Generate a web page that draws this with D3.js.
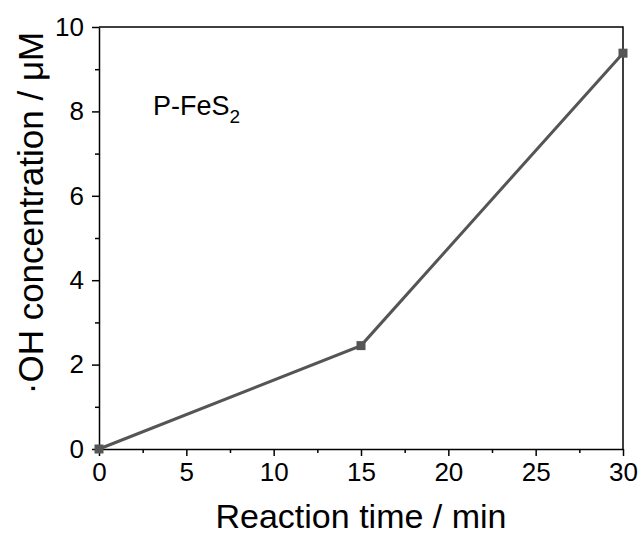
<!DOCTYPE html>
<html>
<head>
<meta charset="utf-8">
<script src="https://cdn.jsdelivr.net/npm/d3@7"></script>
<style>
  body { margin: 0; background: #fff; }
  svg text { font-family: "Liberation Sans", Arial, sans-serif; fill: #000; }
</style>
</head>
<body>
<div id="chart"></div>
<script>
// reaction time (min) vs .OH concentration (uM)
var times = [0, 15, 30];
var conc = [0, 2.45, 9.38];
var xTicks = [0, 5, 10, 15, 20, 25, 30];
var yTicks = [0, 2, 4, 6, 8, 10];

var width = 638, height = 537;
var margin = {top: 27, right: 15, bottom: 88, left: 99};
var w = width - margin.left - margin.right;
var h = height - margin.top - margin.bottom;

var svg = d3.select('#chart').append('svg')
    .attr('width', width)
    .attr('height', height);

var g = svg.append('g')
    .attr('transform', 'translate(' + margin.left + ',' + margin.top + ')');

var x = d3.scaleLinear().domain([0, 30]).range([0, w]);
var y = d3.scaleLinear().domain([0, 10]).range([h, 0]);

// minor ticks
g.append('g')
    .attr('transform', 'translate(0,' + h + ')')
    .call(d3.axisBottom(x).tickValues(d3.range(2.5, 30, 5)).tickSize(4).tickFormat(''))
    .call(function (a) { a.select('.domain').remove(); });
g.append('g')
    .call(d3.axisLeft(y).tickValues(d3.range(1, 10, 2)).tickSize(4).tickFormat(''))
    .call(function (a) { a.select('.domain').remove(); });

// major axes
var xAxis = g.append('g')
    .attr('transform', 'translate(0,' + h + ')')
    .call(d3.axisBottom(x).tickValues(xTicks).tickSize(7).tickPadding(7).tickSizeOuter(0));
var yAxis = g.append('g')
    .call(d3.axisLeft(y).tickValues(yTicks).tickSize(7).tickPadding(8).tickSizeOuter(0));

[xAxis, yAxis].forEach(function (a) {
    a.selectAll('text').style('font-size', '26px');
});
g.selectAll('.tick line, .domain').attr('stroke', '#000').attr('stroke-width', 1.5);

// top + right frame
g.append('path')
    .attr('d', 'M0,0H' + w + 'V' + h)
    .attr('fill', 'none')
    .attr('stroke', '#000')
    .attr('stroke-width', 1.5);

var pts = times.map(function (t, i) { return [t, conc[i]]; });

g.append('path')
    .datum(pts)
    .attr('fill', 'none')
    .attr('stroke', '#555')
    .attr('stroke-width', 3)
    .attr('d', d3.line().x(function (d) { return x(d[0]); }).y(function (d) { return y(d[1]); }));

g.selectAll('.pt')
    .data(pts)
    .enter().append('rect')
    .attr('class', 'pt')
    .attr('x', function (d) { return x(d[0]) - 4.5; })
    .attr('y', function (d) { return y(d[1]) - 4.5; })
    .attr('width', 9)
    .attr('height', 9)
    .attr('fill', '#555');

// label
var lbl = g.append('text')
    .attr('x', 54)
    .attr('y', 88)
    .style('font-size', '27px');
lbl.append('tspan').text('P-FeS');
lbl.append('tspan').attr('dy', 8).style('font-size', '19px').text('2');

// axis titles
svg.append('text')
    .attr('x', margin.left + w / 2)
    .attr('y', 528)
    .attr('text-anchor', 'middle')
    .style('font-size', '34px')
    .text('Reaction time / min');

svg.append('text')
    .attr('transform', 'translate(43,213) rotate(-90)')
    .attr('text-anchor', 'middle')
    .style('font-size', '35px')
    .text('\u00b7OH concentration / \u03bcM');
</script>
</body>
</html>
